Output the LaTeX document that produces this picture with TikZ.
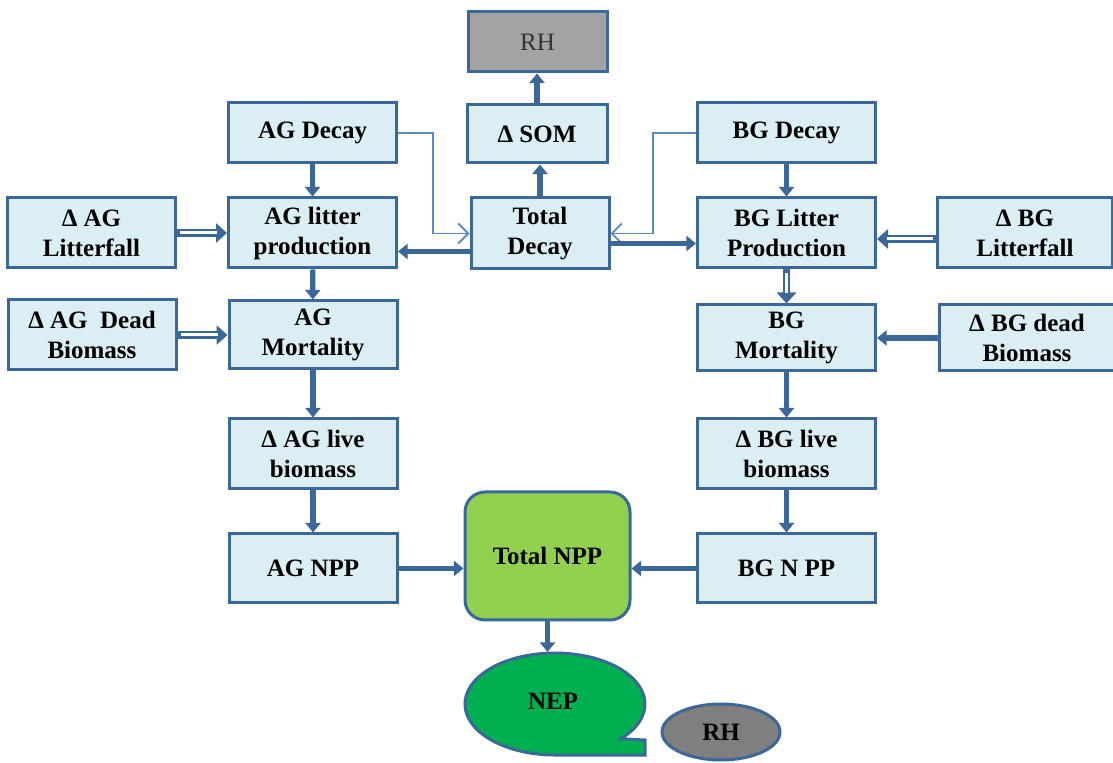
\documentclass[tikz,border=0pt]{standalone}
\usepackage{fontspec}
\setmainfont{Liberation Serif}
\usetikzlibrary{positioning, arrows.meta, shapes.geometric}
\definecolor{boxfill}{HTML}{DAEEF3}
\definecolor{boxline}{HTML}{3B6799}
\definecolor{thinline}{HTML}{5A8AC6}
\definecolor{rhgray}{HTML}{A3A3A3}
\definecolor{rhdark}{HTML}{7F7F7F}
\definecolor{nppgreen}{HTML}{92D050}
\definecolor{nepgreen}{HTML}{00B050}
\tikzset{
    flow box/.style={rectangle, draw=boxline, fill=boxfill, line width=1.5pt, minimum width=84pt, minimum height=35pt, inner sep=1pt, align=center, font=\fontsize{12.5}{15}\selectfont\bfseries},
    flow box wide/.style={flow box, minimum width=89pt},
    thick arrow/.style={line width=2.6pt, draw=boxline, -{Triangle[length=4.8pt, width=7.5pt]}},
    hollow arrow/.style={line width=3.6pt, draw=boxline, -{Triangle[length=5.5pt, width=9.5pt]}, postaction={draw=white, line width=1.5pt, -, shorten >=5pt, shorten <=1.6pt}},
    thin arrow/.style={line width=0.9pt, draw=thinline, -{Straight Barb[length=5pt, width=10pt]}},
}
\begin{document}
\begin{tikzpicture}[x=0.5pt, y=-0.5pt]
\useasboundingbox (0,0) rectangle (1113,763);
% left column
\node[flow box] (agLitter) at (312.5,233) {AG litter\\production};
\node[flow box, left=25pt of agLitter] (agFall) {Δ AG\\Litterfall};
\node[flow box, above=16pt of agLitter, minimum height=30pt] (agDecay) {AG Decay};
\node[flow box, minimum height=34pt] (agMort) at (313,335) {AG\\Mortality};
\node[flow box, left=25pt of agMort] (agDead) {Δ AG\enspace Dead\\Biomass};
\node[flow box, below=23.5pt of agMort] (agLive) {Δ AG live\\biomass};
\node[flow box, below=21pt of agLive, minimum height=34.5pt] (agNpp) {AG NPP};
% right column
\node[flow box wide] (bgLitter) at (786.5,233) {BG Litter\\Production};
\node[flow box, right=29.5pt of bgLitter, minimum width=87.5pt] (bgFall) {Δ BG\\Litterfall};
\node[flow box wide, above=16pt of bgLitter, minimum height=30pt] (bgDecay) {BG Decay};
\node[flow box wide, minimum height=33pt] (bgMort) at (786.5,338) {BG\\Mortality};
\node[flow box, right=30.5pt of bgMort, minimum width=87.5pt, minimum height=33pt] (bgDead) {Δ BG dead\\Biomass};
\node[flow box wide, below=22.5pt of bgMort] (bgLive) {Δ BG live\\biomass};
\node[flow box wide, below=21pt of bgLive, minimum height=34.5pt] (bgNpp) {BG N PP};
% middle
\node[flow box, minimum width=69pt, minimum height=35.5pt] (totDecay) at (540,233.5) {Total\\Decay};
\node[flow box, minimum width=70pt, minimum height=29pt] (som) at (537,134) {Δ SOM};
\node[flow box, minimum width=69.5pt, minimum height=30pt, fill=rhgray, font=\fontsize{12.5}{15}\selectfont, text=black!80] (rhTop) at (537.5,42) {RH};
\node[flow box, minimum width=82.5pt, minimum height=64pt, fill=nppgreen, rounded corners=10pt] (totNpp) at (547.5,556) {Total NPP};
\draw[line width=1.5pt, draw=boxline, fill=nepgreen] (620.8,738.8) arc[start angle=43, end angle=-270, x radius=90, y radius=51] -- (645,755) -- (645,740) -- cycle;
\node[font=\fontsize{12.5}{15}\selectfont\bfseries] (nep) at (553,701) {NEP};
\coordinate (nepTop) at (550,652);
\node[ellipse, draw=boxline, fill=rhdark, line width=1.5pt, minimum width=59pt, minimum height=28pt, inner sep=0pt, font=\fontsize{12.5}{15}\selectfont\bfseries] (rhLow) at (721,732) {RH};
% flows
\coordinate (tdLeft) at ([yshift=-9pt]totDecay.west);
\coordinate (tdRight) at ([yshift=-5pt]totDecay.east);
\coordinate (bfIn) at ([yshift=-3pt]bgFall.west);
\draw[thick arrow] (som.north) -- (som.north |- rhTop.south);
\draw[thick arrow] (totDecay.north) -- (totDecay.north |- som.south);
\draw[thick arrow] (agDecay) -- (agLitter);
\draw[thick arrow] (bgDecay) -- (bgLitter);
\draw[thin arrow] (agDecay.east) -- ++(35,0) |- (totDecay.west);
\draw[thin arrow] (bgDecay.west) -- ++(-43,0) |- (totDecay.east);
\draw[hollow arrow] (agFall) -- (agLitter);
\draw[thick arrow] (tdLeft) -- (tdLeft -| agLitter.east);
\draw[thick arrow] (tdRight) -- (tdRight -| bgLitter.west);
\draw[hollow arrow] (bfIn) -- (bfIn -| bgLitter.east);
\draw[thick arrow] (agLitter) -- (agMort);
\draw[hollow arrow] (bgLitter) -- (bgMort);
\draw[hollow arrow] (agDead) -- (agMort);
\draw[thick arrow] (bgDead) -- (bgMort);
\draw[thick arrow] (agMort) -- (agLive);
\draw[thick arrow] (bgMort) -- (bgLive);
\draw[thick arrow] (agLive) -- (agNpp);
\draw[thick arrow] (bgLive) -- (bgNpp);
\draw[thick arrow] (agNpp.east) -- (agNpp.east -| totNpp.west);
\draw[thick arrow] (bgNpp.west) -- (bgNpp.west -| totNpp.east);
\draw[thick arrow] (totNpp.south) -- (totNpp.south |- nepTop);
\end{tikzpicture}
\end{document}
